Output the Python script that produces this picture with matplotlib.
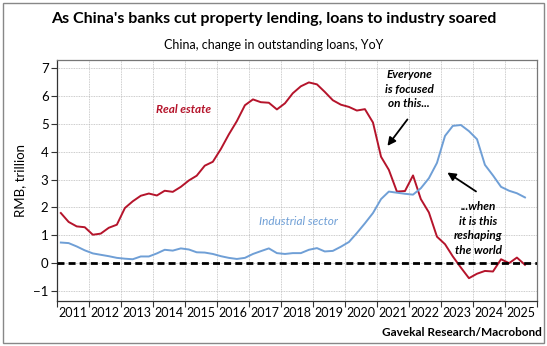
import matplotlib
matplotlib.use("Agg")
import matplotlib.pyplot as plt
import pandas as pd
from matplotlib.patches import Rectangle

plt.rcParams['font.family'] = ['Lato', 'DejaVu Sans']

# quarterly observations, Feb 2011 .. Aug 2025
dates = pd.date_range('2011-02-01', periods=59, freq='3MS') + pd.Timedelta(days=14)

# change in outstanding loans, RMB trillion, YoY
real_estate = [1.80, 1.48, 1.32, 1.29, 1.02, 1.06, 1.27, 1.38,
               1.98, 2.22, 2.42, 2.50, 2.43, 2.60, 2.56, 2.74,
               2.97, 3.14, 3.50, 3.64, 4.10, 4.62, 5.10, 5.67,
               5.88, 5.78, 5.76, 5.52, 5.74, 6.10, 6.35, 6.49,
               6.42, 6.15, 5.85, 5.69, 5.61, 5.48, 5.53, 5.05,
               3.82, 3.35, 2.57, 2.59, 3.15, 2.30, 1.82, 0.95,
               0.68, 0.24, -0.16, -0.54, -0.38, -0.28, -0.30, 0.14,
               0.00, 0.20, -0.06]
industrial = [0.74, 0.72, 0.60, 0.46, 0.35, 0.30, 0.25, 0.19,
              0.16, 0.14, 0.24, 0.24, 0.35, 0.48, 0.45, 0.53,
              0.49, 0.39, 0.38, 0.33, 0.25, 0.19, 0.15, 0.19,
              0.33, 0.43, 0.53, 0.36, 0.33, 0.36, 0.36, 0.48,
              0.54, 0.42, 0.44, 0.59, 0.76, 1.08, 1.43, 1.80,
              2.30, 2.57, 2.53, 2.49, 2.46, 2.69, 3.05, 3.60,
              4.57, 4.93, 4.96, 4.74, 4.45, 3.53, 3.15, 2.74,
              2.60, 2.51, 2.36]
years = list(range(2011, 2026))

red = '#b5142b'
blue = '#6f9fd6'

fig = plt.figure(figsize=(5.47, 3.46), dpi=100)
ax = fig.add_axes([0.104, 0.130, 0.878, 0.697])

ax.plot(dates, real_estate, color=red, lw=1.4, zorder=3)
ax.plot(dates, industrial, color=blue, lw=1.4, zorder=3)
ax.axhline(0, color='black', lw=2.0, ls=(0, (2.5, 1.5)), zorder=4)

ax.set_xlim(pd.Timestamp('2011-01-01'), pd.Timestamp('2026-01-01'))
ax.set_ylim(-1.36, 7.3)
ax.set_yticks(range(-1, 8))

# year boundaries get tick marks + grid, labels sit mid-year
ax.set_xticks([pd.Timestamp(f'{y}-01-01') for y in years + [2026]])
ax.set_xticks([pd.Timestamp(f'{y}-07-02') for y in years], minor=True)
ax.set_xticklabels([str(y) for y in years], minor=True)
ax.tick_params(axis='x', which='major', labelbottom=False, length=4, width=0.8, color='#333333')
ax.tick_params(axis='x', which='minor', length=0, labelsize=9, pad=4)
ax.tick_params(axis='y', length=4, width=0.8, color='#333333', labelsize=9.5, pad=2)

ax.grid(True, which='major', color='#bbbbbb', lw=0.6, ls=(0, (1, 1)))
for s in ax.spines.values():
    s.set_color('#777777')
    s.set_linewidth(0.9)
ax.spines['left'].set_color('#333333')
ax.spines['bottom'].set_color('#333333')

ax.set_ylabel('RMB, trillion', fontsize=9.5, labelpad=5)

ax.text(pd.Timestamp('2014-12-20'), 5.5, 'Real estate', color=red, fontsize=8.5,
        fontweight='bold', style='italic', ha='center', va='center')
ax.text(pd.Timestamp('2018-07-20'), 1.48, 'Industrial sector', color=blue, fontsize=8.5,
        style='italic', ha='center', va='center')
ax.text(pd.Timestamp('2022-01-01'), 6.25, 'Everyone\nis focused\non this...', fontsize=8.5,
        fontweight='bold', style='italic', ha='center', va='center', linespacing=1.4)
ax.text(pd.Timestamp('2024-03-01'), 1.25, '...when\nit is this\nreshaping\nthe world', fontsize=8.5,
        fontweight='bold', style='italic', ha='center', va='center', linespacing=1.4)

arrow = dict(arrowstyle='-|>', color='black', lw=1.3, mutation_scale=12)
ax.annotate('', xy=(pd.Timestamp('2021-04-10'), 4.13), xytext=(pd.Timestamp('2022-01-01'), 5.24),
            arrowprops=arrow)
ax.annotate('', xy=(pd.Timestamp('2023-02-15'), 3.31), xytext=(pd.Timestamp('2024-03-01'), 2.52),
            arrowprops=arrow)

fig.text(0.5, 0.946, "As China's banks cut property lending, loans to industry soared",
         fontsize=11.5, fontweight='bold', ha='center', va='center')
fig.text(0.5, 0.87, 'China, change in outstanding loans, YoY', fontsize=9,
         ha='center', va='center')
fig.text(0.99, 0.038, 'Gavekal Research/Macrobond', fontsize=8.5, fontweight='bold',
         ha='right', va='center')

fig.patches.append(Rectangle((0.006, 0.009), 0.988, 0.982, transform=fig.transFigure,
                             fill=False, edgecolor='#888888', lw=1.0))

fig.savefig('out.png', dpi=100)
